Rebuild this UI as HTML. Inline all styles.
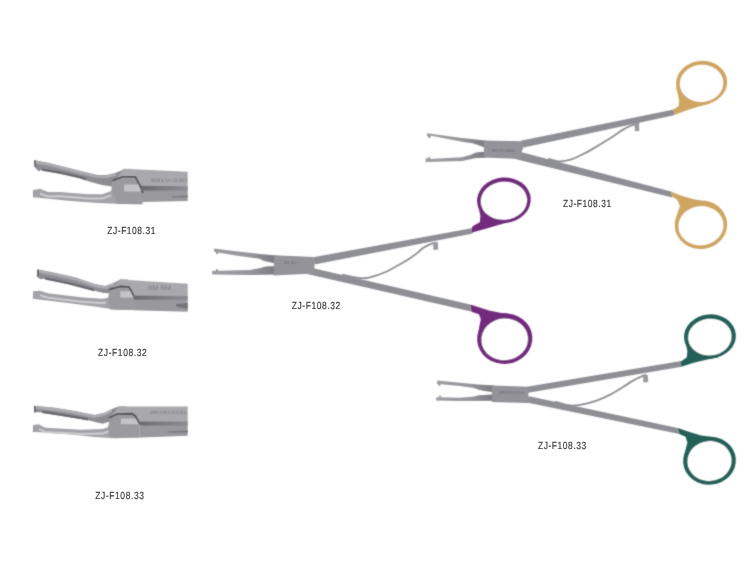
<!DOCTYPE html>
<html><head><meta charset="utf-8"><style>
html,body{margin:0;padding:0;background:#fff;}
body{width:750px;height:563px;overflow:hidden;}
svg{display:block;}
text{text-rendering:geometricPrecision;font-family:"Liberation Sans",sans-serif;font-size:10.3px;fill:#3a3a3a;stroke:#3a3a3a;stroke-width:0.18px;}
</style></head><body>
<svg width="750" height="563" viewBox="0 0 750 563">
<defs><filter id="gs" filterUnits="userSpaceOnUse" x="0" y="0" width="750" height="563"><feOffset dx="0" dy="0"/></filter><filter id="cv" filterUnits="userSpaceOnUse" x="0" y="0" width="750" height="563"><feConvolveMatrix order="3" kernelMatrix="1 4 1 4 16 4 1 4 1" divisor="36" edgeMode="none" preserveAlpha="false"/></filter></defs>
<g filter="url(#cv)">
<polygon points="520.7,140.7 673.8,109.5 674,115.2 523.6,147.5" fill="#8e8e95" />
<polygon points="521.7,152.2 671,191.5 672.5,197.4 514.2,158.7" fill="#8e8e95" />
<path d="M549,159 C550.83,159.42 556.28,161.43 560,161.5 C563.72,161.57 567.52,160.60 571.3,159.4 C575.08,158.20 578.92,156.18 582.7,154.3 C586.48,152.42 590.23,150.27 594,148.1 C597.77,145.93 601.52,143.67 605.3,141.3 C609.08,138.93 613.67,135.88 616.7,133.9 C619.73,131.92 621.23,130.72 623.5,129.4 C625.77,128.08 628.42,126.85 630.3,126 C632.18,125.15 633.43,124.73 634.8,124.3 C636.17,123.87 637.88,123.55 638.5,123.4" fill="none" stroke="#8e8e94" stroke-width="1.8" stroke-linecap="round"/>
<polygon points="634.6,124.5 639,124 639.3,131 634.9,131.3" fill="#9a9aa0" />
<linearGradient id="g1" gradientUnits="userSpaceOnUse" x1="427" y1="0" x2="483.9" y2="0"><stop offset="0" stop-color="#9c9ca1"/><stop offset="0.6" stop-color="#96969c"/><stop offset="1" stop-color="#7c7c82"/></linearGradient>
<polygon points="427,133.2 462,138.1 476,139.5 486,140.8 486,148 477.9,145.1 472.3,143.2 462,141.8 431.2,135.7 427,136.5" fill="url(#g1)" />
<polygon points="425.6,158.1 430.3,159.1 462,157.2 470.4,154.9 476,152.5 486,151.5 486,157.7 476,158.1 462,161 425.6,161.9" fill="url(#g1)" />
<rect x="428.4" y="135.6" width="2.1" height="2.2" fill="#8a8a90"/>
<rect x="428.4" y="157" width="1.6" height="2.1" fill="#8a8a90"/>
<polygon points="483.9,140.6 521.5,141.2 523.6,147.3 521.7,151.5 521.5,158.9 483.9,157.6 483.9,146.3" fill="#939399" />
<polygon points="673.5,109.3 674.2,109.1 678.5,106.3 679.2,101.3 677.8,94.2 676,87.1 701.6,83 709.7,103.8 699,106.6 688.4,109.8 674.2,115" fill="#cfa562" />
<ellipse cx="701.65" cy="82.7" rx="25.55" ry="21.8" fill="#cfa562" transform="rotate(-5 701.65 82.7)"/>
<ellipse cx="701.55" cy="83.4" rx="21.75" ry="18.6" fill="#ffffff" transform="rotate(-5 701.55 83.4)"/>
<polygon points="670.6,191.2 677.4,194.2 684,196.4 690,198.3 695,199.6 700.5,200.5 701,225 675.6,219.8 677.4,213.6 679.9,206.1 677.4,199.9 672.5,196.8" fill="#cfa562" />
<ellipse cx="700.95" cy="224.75" rx="26.25" ry="24.25" fill="#cfa562" transform="rotate(-5 700.95 224.75)"/>
<ellipse cx="700.95" cy="225.7" rx="22.55" ry="19.6" fill="#ffffff" transform="rotate(-5 700.95 225.7)"/>
<polygon points="313.2,257.2 471.6,228.2 471.6,233.8 314.4,264.4" fill="#8e8e95" />
<polygon points="314.4,268.6 470.2,304.6 471.2,311.5 307.2,274" fill="#8e8e95" />
<path d="M343,274.7 C344.50,275.05 348.83,276.22 352,276.8 C355.17,277.38 359.00,278.10 362,278.2 C365.00,278.30 366.17,278.40 370,277.4 C373.83,276.40 380.00,274.40 385,272.2 C390.00,270.00 395.83,266.53 400,264.2 C404.17,261.87 407.00,260.17 410,258.2 C413.00,256.23 415.83,254.10 418,252.4 C420.17,250.70 421.00,249.35 423,248 C425.00,246.65 427.83,245.20 430,244.3 C432.17,243.40 435.00,242.88 436,242.6" fill="none" stroke="#8e8e94" stroke-width="1.8" stroke-linecap="round"/>
<polygon points="433,242.5 437.8,242 438.2,249.5 433.4,249.9" fill="#9a9aa0" />
<linearGradient id="g2" gradientUnits="userSpaceOnUse" x1="214.1" y1="0" x2="273.8" y2="0"><stop offset="0" stop-color="#9c9ca1"/><stop offset="0.6" stop-color="#96969c"/><stop offset="1" stop-color="#7c7c82"/></linearGradient>
<polygon points="214.1,248.6 236,251.2 260.3,254 276,255.5 276,263.5 264,261 259.4,258.7 236,255.4 215,252.1 214.1,252.1" fill="url(#g2)" />
<polygon points="212.2,270.8 218.3,270.8 250,269.9 260.3,268 265.9,266.6 276,266 276,274.5 250,275 212.2,274.5" fill="url(#g2)" />
<rect x="216.2" y="251.8" width="1.8" height="2.2" fill="#8a8a90"/>
<rect x="216" y="269.2" width="1.8" height="2" fill="#8a8a90"/>
<polygon points="273.8,255.3 313.5,257 314.4,264.4 314.4,269.2 313.8,273.5 273.8,275.5" fill="#939399" />
<polygon points="471.6,228.2 473,226 479.8,222.2 480.4,216 478.6,207.3 477.3,198.6 504,201 511.5,221.6 499.1,224.7 486.7,228.5 473,232.2 471.6,233.8" fill="#722b7d" />
<ellipse cx="503.9" cy="200.2" rx="26.9" ry="22.7" fill="#722b7d" transform="rotate(-5 503.9 200.2)"/>
<ellipse cx="503.9" cy="200.8" rx="23.2" ry="19" fill="#ffffff" transform="rotate(-5 503.9 200.8)"/>
<polygon points="470.2,304.6 478.9,307.3 488.9,310.4 501.3,312.9 508,313.6 505,339 477.7,336.6 478.9,329.1 480.8,319.1 478.9,314.2 471.5,311.7" fill="#722b7d" />
<ellipse cx="504.75" cy="338.7" rx="27.65" ry="25.2" fill="#722b7d" transform="rotate(-5 504.75 338.7)"/>
<ellipse cx="504.7" cy="339.35" rx="23.3" ry="20.85" fill="#ffffff" transform="rotate(-5 504.7 339.35)"/>
<polygon points="526.8,386.8 681.2,361 681.6,366.8 528,392.8" fill="#8e8e95" />
<polygon points="529.2,396.2 677.7,428.1 679.3,433.9 524.4,401.9" fill="#8e8e95" />
<path d="M555.6,401.9 C557.17,402.35 562.15,403.97 565,404.6 C567.85,405.23 569.32,405.82 572.7,405.7 C576.08,405.58 581.08,404.83 585.3,403.9 C589.52,402.97 593.77,401.68 598,400.1 C602.23,398.52 606.47,396.63 610.7,394.4 C614.93,392.17 619.60,389.03 623.4,386.7 C627.20,384.37 630.55,382.08 633.5,380.4 C636.45,378.72 639.10,377.53 641.1,376.6 C643.10,375.67 644.77,375.10 645.5,374.8" fill="none" stroke="#8e8e94" stroke-width="1.8" stroke-linecap="round"/>
<polygon points="643,375.5 647.8,375 648.2,382 643.4,382.4" fill="#9a9aa0" />
<linearGradient id="g3" gradientUnits="userSpaceOnUse" x1="437.1" y1="0" x2="491.8" y2="0"><stop offset="0" stop-color="#9c9ca1"/><stop offset="0.6" stop-color="#96969c"/><stop offset="1" stop-color="#7c7c82"/></linearGradient>
<polygon points="437.1,380.4 460,382.7 478.7,384.6 494,385.6 494,392.3 484.3,391.1 478.7,389.7 474,387.9 460,386 438.5,384.1 437.1,384" fill="url(#g3)" />
<polygon points="436.2,397.2 460,397.7 474,396.5 478.7,395.3 484.3,394.9 494,394.3 494,400.7 460,401 436.2,400.5" fill="url(#g3)" />
<rect x="438.6" y="383.8" width="1.8" height="2" fill="#8a8a90"/>
<rect x="439.2" y="395.5" width="1.6" height="2" fill="#8a8a90"/>
<polygon points="491.8,385.6 528.4,386.8 528.4,403 491.8,402" fill="#939399" />
<polygon points="680.8,361 681.8,361 686.8,357.2 687.4,351 685.6,342.3 684.3,334.9 710,337 718.5,357.2 706.1,359.7 693.7,362.8 681.2,366.8" fill="#216058" />
<ellipse cx="709.95" cy="336.4" rx="25.95" ry="22.1" fill="#216058" transform="rotate(-5 709.95 336.4)"/>
<ellipse cx="709.85" cy="337.05" rx="21.75" ry="18.35" fill="#ffffff" transform="rotate(-5 709.85 337.05)"/>
<polygon points="677.7,428.1 688.7,431.8 701.1,435.5 711,436.8 710,461 683.7,457.3 685.5,449.9 687.4,442.4 685.5,436.8 679.3,433.9" fill="#216058" />
<ellipse cx="709.5" cy="460.75" rx="26.4" ry="23.95" fill="#216058" transform="rotate(-5 709.5 460.75)"/>
<ellipse cx="709.5" cy="461" rx="22.1" ry="19.9" fill="#ffffff" transform="rotate(-5 709.5 461)"/>
<polygon points="34,160 48,162.7 60,165.7 78.7,170.4 97.3,175.1 106.7,175.1 116,172.7 123.5,169.5 130,168.8 130,187 115,187 110.4,186.3 102,184.9 90.8,182.1 78.7,177.9 60,173.7 41.3,170 38.7,171.3 34.7,167.3" fill="#8c8c92" />
<polygon points="36,160.7 48,163 60,166 78.7,170.7 97.3,175.4 106.7,175.4 116,173 116,175.7 106.7,178.1 97.3,178.1 78.7,173.4 60,168.7 48,165.7 36,163.4" fill="#acacb0" />
<polygon points="42,168.5 60,171.6 78.7,175.8 86,178 86,180.2 78.7,178 60,173.8 42,170.7" fill="#66666c" />
<polygon points="34,160.5 35.6,160.8 35.6,166.5 34.6,167" fill="#5a5a60" />
<polygon points="33.3,190.5 34.7,190.2 34.7,197 33.3,197.2" fill="#5a5a60" />
<polygon points="33.3,190 40,188.7 48,192 60,191.9 88,194.2 102,194.2 111.3,191 116,187.7 125.3,183 142,183 142,204.3 114.7,203.8 94.7,202.8 68,200.7 33.3,197.3" fill="#a3a3a7" />
<polygon points="40,192.6 48,195.4 60,195.3 88,197.6 102,197.6 111.3,194.4 111.3,196.4 102,199.6 88,199.6 60,197.3 48,197.4 40,194.6" fill="#cdcdd0" />
<polygon points="112,181 122.6,176.8 135.4,176.8 139.4,184.4 142.6,192.4 142.6,204.3 117,204 114,194 111.3,191" fill="#9a9a9f" />
<polygon points="124.2,184.4 139.4,184.4 141.5,191.6 124.2,191.6" fill="#c4c4c7" />
<polygon points="123.4,168.8 187.7,171.7 187.7,188.3 142.6,188.3 139.4,184.4 135.4,176.8 122.6,176.8 117,178.5" fill="#a9a9ad" />
<polygon points="141.8,188.3 187.7,188.3 187.7,201 141.8,202" fill="#98989d" />
<polyline points="113,180.4 122.6,176.8 135.4,176.8 139.4,184.4 142.6,192.4" fill="none" stroke="#4a4a50" stroke-width="1.6" stroke-linejoin="round" stroke-linecap="round" />
<linearGradient id="b1" gradientUnits="userSpaceOnUse" x1="141" y1="0" x2="188" y2="0"><stop offset="0" stop-color="#6a6a70"/><stop offset="0.5" stop-color="#7c7c82"/><stop offset="1" stop-color="#8c8c92"/></linearGradient>
<polygon points="141,185.8 187.7,186.3 187.7,190.3 141,190.8" fill="url(#b1)" />
<polygon points="172,196.5 187.7,195.5 187.7,197.2 172,197.4" fill="#74747a" />
<polygon points="37.3,269.3 54.7,272.7 74.7,277.3 94.7,284 105.3,286 114.6,282.4 120.2,279.6 128,279.5 128,293.5 110,293.5 102.7,292.7 88,289.3 68,284 44,278.7 40.7,279.3 36.7,276.7" fill="#8c8c92" />
<polygon points="38,269.8 54.7,273 74.7,277.6 94.7,284.3 105.3,286.3 114.6,282.7 114.6,285.4 105.3,289 94.7,287 74.7,280.3 54.7,275.7 38,272.5" fill="#acacb0" />
<polygon points="45,277.2 68,282 88,287.2 94,289 94,291.2 88,289.4 68,284.2 45,279.4" fill="#66666c" />
<polygon points="37.3,269.8 38.9,270.1 38.9,275.8 37.9,276.3" fill="#5a5a60" />
<polygon points="33.3,291.8 34.7,291.5 34.7,298.3 33.3,298.5" fill="#5a5a60" />
<polygon points="33.3,291.3 40,290.7 48,293.3 81.3,297.3 101.3,298.7 106,298.3 109,297.5 114,293 134,293 134,310 114.7,309.6 94.7,306.5 68,302.9 32.7,298.7" fill="#a3a3a7" />
<polygon points="40,294.3 48,296.7 81.3,300.7 101.3,302.1 106,301.7 106,303.7 101.3,304.1 81.3,302.7 48,298.7 40,296.3" fill="#cdcdd0" />
<polygon points="109.8,289.6 119.4,286.4 129,286.8 131.4,291.2 133.8,296 133.8,310 110,309.6 108,299" fill="#9a9a9f" />
<polygon points="120.2,291.2 131.4,291.2 133.2,297.6 120.2,297.6" fill="#c4c4c7" />
<polygon points="120.2,279.6 187.7,283.7 187.7,296.3 133.8,296.3 131.4,291.2 129,286.8 119.4,286.4 112,288.5" fill="#a9a9ad" />
<polygon points="133.8,296.3 187.7,296.3 187.7,311.7 133.8,310.3" fill="#98989d" />
<polyline points="109.8,289.6 119.4,286.4 129,286.8 131.4,291.2 133.8,296" fill="none" stroke="#4a4a50" stroke-width="1.6" stroke-linejoin="round" stroke-linecap="round" />
<linearGradient id="b2" gradientUnits="userSpaceOnUse" x1="133.8" y1="0" x2="188" y2="0"><stop offset="0" stop-color="#6a6a70"/><stop offset="0.5" stop-color="#7c7c82"/><stop offset="1" stop-color="#8c8c92"/></linearGradient>
<polygon points="133.8,295.5 187.7,296 187.7,299.7 133.8,299.7" fill="url(#b2)" />
<polygon points="176,304 187.7,303 187.7,309 176,306.5" fill="#74747a" />
<polygon points="34,405.7 54.7,407.7 74.7,411 94.7,415 105,412.4 112,409 118.6,406.4 126,406.4 126,420 108,422 102.7,423.7 88,420.3 68,417 41.3,412.3 34,412.3" fill="#8c8c92" />
<polygon points="35,406.1 54.7,408 74.7,411.3 94.7,415.3 105,412.7 112,409.3 112,412 105,415.4 94.7,418 74.7,414 54.7,410.7 35,408.8" fill="#acacb0" />
<polygon points="42,410.8 68,414.8 80,416.8 88,418.2 88,420.4 80,419 68,417 42,413" fill="#66666c" />
<polygon points="34,406.2 35.6,406.5 35.6,412.2 34.6,412.7" fill="#5a5a60" />
<polygon points="33.3,425.5 34.7,425.2 34.7,432 33.3,432.2" fill="#5a5a60" />
<polygon points="33.3,425 38.7,424.3 45.3,427.7 81.3,429.7 102.7,429 110.7,426.3 117.3,422.3 121.3,420.3 139,420 139.4,437.6 114.7,438.3 94.7,437 68,434.3 32.7,431.7" fill="#a3a3a7" />
<polygon points="39,427.9 45.3,431.1 81.3,433.1 102.7,432.4 110.7,429.7 110.7,431.7 102.7,434.4 81.3,435.1 45.3,433.1 39,429.9" fill="#cdcdd0" />
<polygon points="109.8,417.6 117,414 132.2,413.6 135.4,416 139.4,423.2 139.4,437.6 110,437.6 108,428" fill="#9a9a9f" />
<polygon points="121,418.4 136.6,418.4 138.6,424.2 121,424.2" fill="#c4c4c7" />
<polygon points="118.6,406.4 187.7,406.4 187.7,423.7 139.4,423.7 135.4,416 132.2,413.6 117,414 111,416.5" fill="#a9a9ad" />
<polygon points="139.4,424 187.7,424 187.7,435.7 139.4,437.6" fill="#98989d" />
<polyline points="109.8,417.6 117,414 132.2,413.6 135.4,416 139.4,423.2" fill="none" stroke="#4a4a50" stroke-width="1.6" stroke-linejoin="round" stroke-linecap="round" />
<linearGradient id="b3" gradientUnits="userSpaceOnUse" x1="139.4" y1="0" x2="188" y2="0"><stop offset="0" stop-color="#6a6a70"/><stop offset="0.5" stop-color="#7c7c82"/><stop offset="1" stop-color="#8c8c92"/></linearGradient>
<polygon points="139.4,421.6 187.7,421.6 187.7,425.4 139.4,425.6" fill="url(#b3)" />
<polygon points="168,431.6 187.7,430.4 187.7,432.4 168,432.4" fill="#74747a" />
<text x="151" y="181.6" textLength="36" lengthAdjust="spacingAndGlyphs" style="font-size:5.2px;fill:#7a7a80;stroke:none;font-weight:normal" transform="rotate(0 151 181.6)">881V-330</text>
<text x="148" y="290.3" textLength="23" lengthAdjust="spacingAndGlyphs" style="font-size:6.5px;fill:#7a7a80;stroke:none;font-weight:normal" transform="rotate(0 148 290.3)">8M 8M</text>
<text x="149.7" y="413.9" textLength="37.5" lengthAdjust="spacingAndGlyphs" style="font-size:4.8px;fill:#7a7a80;stroke:none;font-weight:normal" transform="rotate(0 149.7 413.9)">8B1813231</text>
<text x="492" y="151.6" textLength="23.5" lengthAdjust="spacingAndGlyphs" style="font-size:3.6px;fill:#6a6a70;stroke:none;font-weight:normal" transform="rotate(1.5 492 151.6)">881813880</text>
<text x="284" y="264" textLength="12" lengthAdjust="spacingAndGlyphs" style="font-size:4.2px;fill:#6a6a70;stroke:none;font-weight:normal" transform="rotate(0 284 264)">M M</text>
<text x="499" y="393.4" textLength="25" lengthAdjust="spacingAndGlyphs" style="font-size:3.4px;fill:#6a6a70;stroke:none;font-weight:normal" transform="rotate(1.5 499 393.4)">881813218</text>
</g><g filter="url(#gs)">
<text transform="translate(563 207.4) scale(0.82 1)" x="0" y="0" textLength="58.7805" lengthAdjust="spacing">ZJ-F108.31</text>
<text transform="translate(291.7 308.6) scale(0.82 1)" x="0" y="0" textLength="59.2683" lengthAdjust="spacing">ZJ-F108.32</text>
<text transform="translate(537.9 448.9) scale(0.82 1)" x="0" y="0" textLength="59.0244" lengthAdjust="spacing">ZJ-F108.33</text>
<text transform="translate(107.3 233.6) scale(0.82 1)" x="0" y="0" textLength="58.7805" lengthAdjust="spacing">ZJ-F108.31</text>
<text transform="translate(98.1 356) scale(0.82 1)" x="0" y="0" textLength="59.2683" lengthAdjust="spacing">ZJ-F108.32</text>
<text transform="translate(95.3 498.6) scale(0.82 1)" x="0" y="0" textLength="59.2683" lengthAdjust="spacing">ZJ-F108.33</text>
</g>
</svg>
</body></html>
